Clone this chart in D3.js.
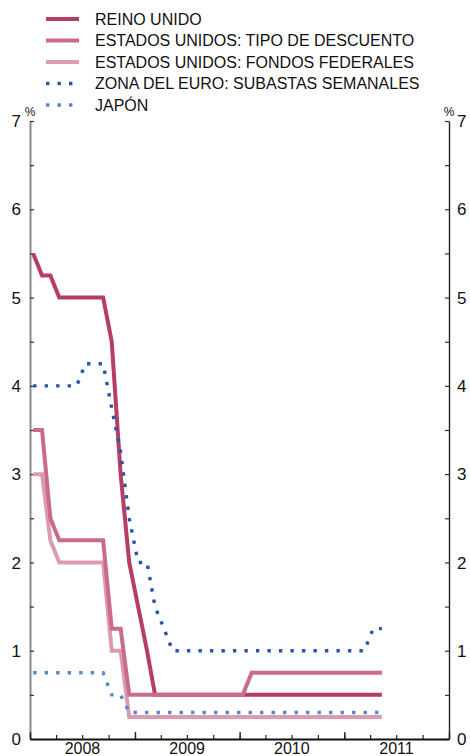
<!DOCTYPE html>
<html><head><meta charset="utf-8">
<script src="https://cdn.jsdelivr.net/npm/d3@7/dist/d3.min.js"></script>
<style>
html,body{margin:0;padding:0;background:#fff;}
svg{display:block;font-family:"Liberation Sans",Arial,Helvetica,sans-serif;}
</style></head>
<body><svg id="chart" width="470" height="756"></svg>
<script>
// Monthly observations, Jan 2008 – May 2011
const months = [
  "2008-01","2008-02","2008-03","2008-04","2008-05","2008-06","2008-07","2008-08","2008-09","2008-10","2008-11","2008-12",
  "2009-01","2009-02","2009-03","2009-04","2009-05","2009-06","2009-07","2009-08","2009-09","2009-10","2009-11","2009-12",
  "2010-01","2010-02","2010-03","2010-04","2010-05","2010-06","2010-07","2010-08","2010-09","2010-10","2010-11","2010-12",
  "2011-01","2011-02","2011-03","2011-04","2011-05"];
const reinoUnido = [5.5,5.25,5.25,5.0,5.0,5.0,5.0,5.0,5.0,4.5,3.0,2.0,
  1.5,1.0,0.5,0.5,0.5,0.5,0.5,0.5,0.5,0.5,0.5,0.5,
  0.5,0.5,0.5,0.5,0.5,0.5,0.5,0.5,0.5,0.5,0.5,0.5,
  0.5,0.5,0.5,0.5,0.5];
const usDescuento = [3.5,3.5,2.5,2.25,2.25,2.25,2.25,2.25,2.25,1.25,1.25,0.5,
  0.5,0.5,0.5,0.5,0.5,0.5,0.5,0.5,0.5,0.5,0.5,0.5,
  0.5,0.75,0.75,0.75,0.75,0.75,0.75,0.75,0.75,0.75,0.75,0.75,
  0.75,0.75,0.75,0.75,0.75];
const usFondos = [3.0,3.0,2.25,2.0,2.0,2.0,2.0,2.0,2.0,1.0,1.0,0.25,
  0.25,0.25,0.25,0.25,0.25,0.25,0.25,0.25,0.25,0.25,0.25,0.25,
  0.25,0.25,0.25,0.25,0.25,0.25,0.25,0.25,0.25,0.25,0.25,0.25,
  0.25,0.25,0.25,0.25,0.25];
const zonaEuro = [4.0,4.0,4.0,4.0,4.0,4.0,4.25,4.25,4.25,3.75,3.25,2.5,
  2.0,2.0,1.5,1.25,1.0,1.0,1.0,1.0,1.0,1.0,1.0,1.0,
  1.0,1.0,1.0,1.0,1.0,1.0,1.0,1.0,1.0,1.0,1.0,1.0,
  1.0,1.0,1.0,1.25,1.25];
const japon = [0.75,0.75,0.75,0.75,0.75,0.75,0.75,0.75,0.75,0.5,0.5,0.3,
  0.3,0.3,0.3,0.3,0.3,0.3,0.3,0.3,0.3,0.3,0.3,0.3,
  0.3,0.3,0.3,0.3,0.3,0.3,0.3,0.3,0.3,0.3,0.3,0.3,
  0.3,0.3,0.3,0.3,0.3];
const yearLabels = ["2008","2009","2010","2011"];
const yTicks = [0,1,2,3,4,5,6,7];
const seriesNames = ["REINO UNIDO","ESTADOS UNIDOS: TIPO DE DESCUENTO","ESTADOS UNIDOS: FONDOS FEDERALES","ZONA DEL EURO: SUBASTAS SEMANALES","JAPÓN"];

const svg = d3.select("#chart");
const L = 30, R = 449, T = 121, B = 739;
const x = d3.scaleTime().domain([new Date(2008,0,1), new Date(2012,0,1)]).range([L, R]);
const y = d3.scaleLinear().domain([0,7]).range([B, T]);
const parseM = d3.timeParse("%Y-%m");
const dates = months.map(m => { const d = parseM(m); return new Date(d.getFullYear(), d.getMonth(), 12); });

const styles = [
  {data: reinoUnido, color:"#b63d64", width:4, dash:null},
  {data: usFondos, color:"#dc9bb1", width:4, dash:null},
  {data: usDescuento, color:"#cb6b8c", width:4, dash:null},
  {data: zonaEuro, color:"#2457a8", width:3.4, dash:"3.4,8.1"},
  {data: japon, color:"#5389cc", width:3.4, dash:"3.4,8.1"}
];

// axes
const halfTicks = d3.range(0, 7.01, 0.5);
const gl = svg.append("g").attr("transform",`translate(${L},0)`)
  .call(d3.axisLeft(y).tickValues(halfTicks).tickSizeInner(-4).tickSizeOuter(0).tickFormat(""));
gl.select(".domain").attr("stroke","#8a8a8a").attr("stroke-width",2);
gl.selectAll(".tick line").attr("stroke","#333").attr("stroke-width",1.2);
const gr = svg.append("g").attr("transform",`translate(${R},0)`)
  .call(d3.axisRight(y).tickValues(halfTicks).tickSizeInner(-4).tickSizeOuter(0).tickFormat(""));
gr.select(".domain").attr("stroke","#222").attr("stroke-width",1.4);
gr.selectAll(".tick line").attr("stroke","#333").attr("stroke-width",1.2);

svg.selectAll("text.yl").data(yTicks).enter().append("text")
  .attr("x", 21).attr("y", d => y(d)).attr("dy","0.36em").attr("text-anchor","end")
  .attr("font-size",17).attr("fill","#111").text(d => d);
svg.selectAll("text.yr").data(yTicks).enter().append("text")
  .attr("x", 457).attr("y", d => y(d)).attr("dy","0.36em").attr("text-anchor","start")
  .attr("font-size",17).attr("fill","#111").text(d => d);
svg.append("text").attr("x",30).attr("y",116).attr("text-anchor","middle").attr("font-size",12).attr("fill","#111").text("%");
svg.append("text").attr("x",449).attr("y",116).attr("text-anchor","middle").attr("font-size",12).attr("fill","#111").text("%");

const gb = svg.append("g").attr("transform",`translate(0,${B})`)
  .call(d3.axisBottom(x).ticks(d3.timeMonth.every(3)).tickSizeInner(-4).tickSizeOuter(0).tickFormat(""));
gb.select(".domain").attr("stroke","#111").attr("stroke-width",2);
gb.selectAll(".tick line").attr("stroke","#222").attr("stroke-width",1.2);
const gby = svg.append("g").attr("transform",`translate(0,${B})`)
  .call(d3.axisBottom(x).ticks(d3.timeYear.every(1)).tickSizeInner(-7).tickSizeOuter(0).tickFormat(""));
gby.select(".domain").remove();
gby.selectAll(".tick line").attr("stroke","#222").attr("stroke-width",1.4);

svg.selectAll("text.yr2").data(yearLabels).enter().append("text")
  .attr("x", d => x(new Date(+d,6,2))).attr("y", 754).attr("text-anchor","middle")
  .attr("font-size",16).attr("fill","#111").text(d => d);

// lines
const line = d3.line().x((d,i) => x(dates[i])).y(d => y(d));
styles.forEach(s => {
  svg.append("path").datum(s.data).attr("d", line)
    .attr("fill","none").attr("stroke", s.color).attr("stroke-width", s.width)
    .attr("stroke-linejoin","miter").attr("stroke-dasharray", s.dash);
});

// legend
const legendOrder = [0,2,1,3,4];
const lg = svg.append("g");
seriesNames.forEach((name, i) => {
  const s = styles[legendOrder[i]];
  const yy = 19 + i*21.5;
  lg.append("line").attr("x1",46).attr("x2",79).attr("y1",yy).attr("y2",yy)
    .attr("stroke", s.color).attr("stroke-width", s.dash ? 3.4 : 4)
    .attr("stroke-dasharray", s.dash ? "3.4,8.1" : null);
  lg.append("text").attr("x",95).attr("y",yy).attr("dy","0.36em")
    .attr("font-size",16).attr("fill","#111").text(name);
});
</script></body></html>
